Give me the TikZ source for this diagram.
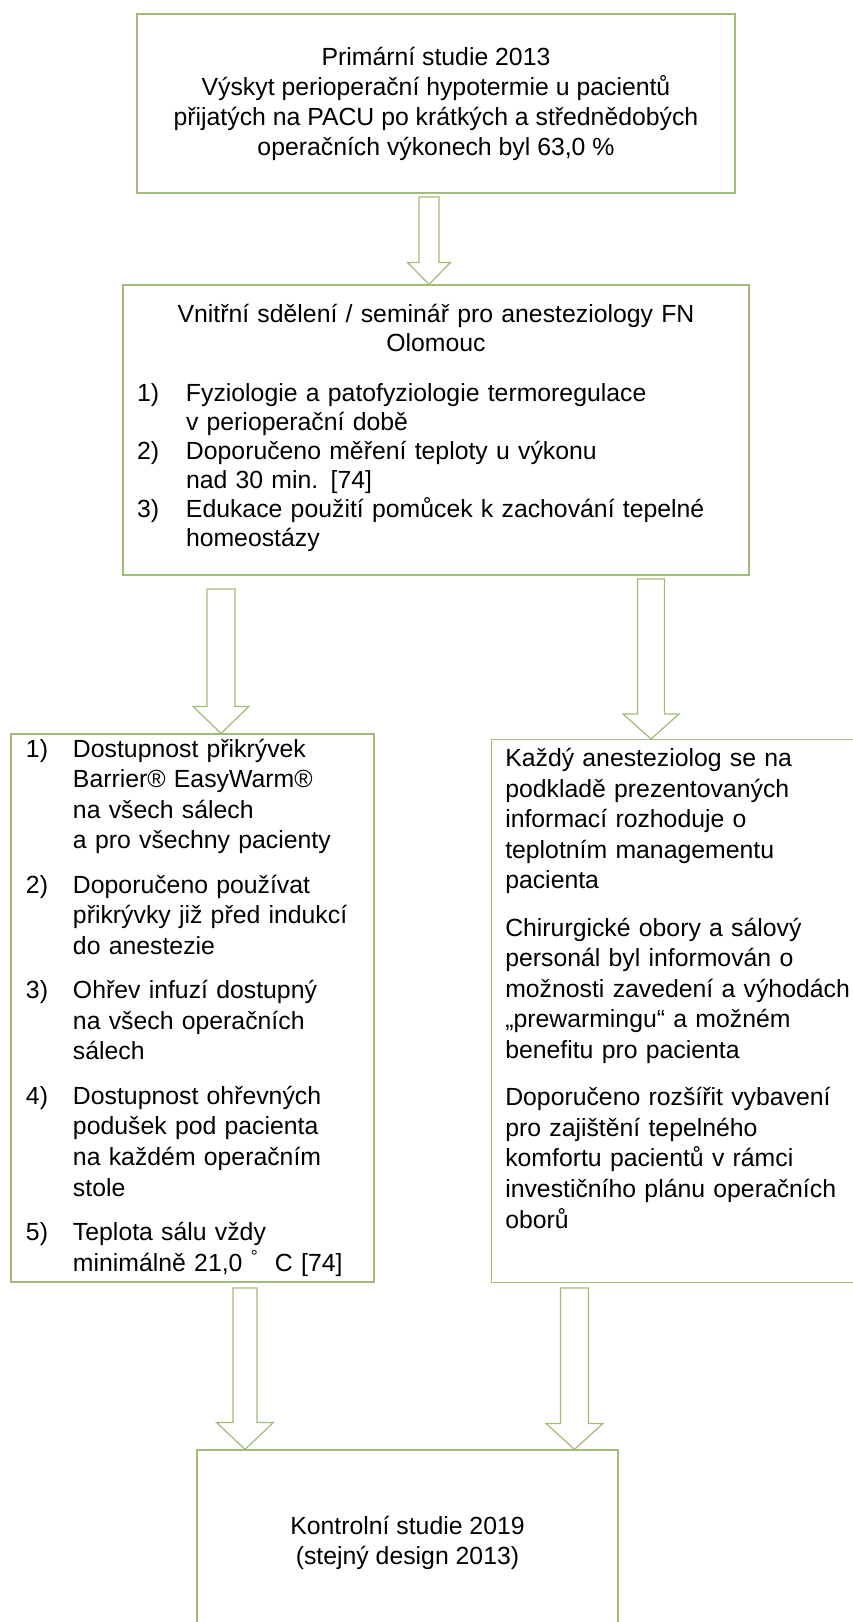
\documentclass[tikz,border=0pt]{standalone}
\usepackage{fontspec}
\setmainfont{Liberation Sans}
\usepackage{tikz}
\usetikzlibrary{calc}
\definecolor{boxgreen}{RGB}{160,188,120}

% hollow block arrow: start, tip, shaft half width, head half width, head length
\newcommand{\blockarrow}[5]{%
  \draw[blk] ($(#1)+(-#3,0)$) -- ($(#2)+(-#3,-#5)$) -- ($(#2)+(-#4,-#5)$)
    -- (#2) -- ($(#2)+(#4,-#5)$) -- ($(#2)+(#3,-#5)$) -- ($(#1)+(#3,0)$) -- cycle;}

\begin{document}
\begin{tikzpicture}[
  x=0.75pt, y=-0.75pt,
  font=\fontsize{18.6}{22.5}\selectfont,
  box/.style={draw=boxgreen, line width=0.9pt, fill=white, inner sep=0pt},
  blk/.style={draw=boxgreen, line width=0.9pt, fill=white, line join=miter},
  txt/.style={inner sep=0pt, align=left},
  ]
  \useasboundingbox (0,0) rectangle (853,1622);
  \clip (0,0) rectangle (853,1622);
  % Primary study
  \node[box, minimum width=448.5pt, minimum height=134.25pt, align=center]
  (prim) at (436,103.5)
  {Primární studie 2013\\
    Výskyt perioperační hypotermie u pacientů\\
    přijatých na PACU po krátkých a střednědobých\\
    operačních výkonech byl 63,0 \%};
  % Seminar
  \node[box, minimum width=469.5pt, minimum height=217.5pt, inner xsep=10.5pt,
  text width=448.5pt, font=\fontsize{18.6}{21.75}\selectfont]
  (semin) at (436,430)
  {{\centering Vnitřní sdělení / seminář pro anesteziology FN\\ Olomouc\par}
    \vspace{21pt}\noindent
    \begin{tabular}{@{}p{36.75pt}@{}l@{}}
      1) & Fyziologie a patofyziologie termoregulace\\
         & v perioperační době\\
      2) & Doporučeno měření teploty u výkonu\\
         & nad 30 min. [74]\\
      3) & Edukace použití pomůcek k zachování tepelné\\
         & homeostázy
    \end{tabular}};
  % Measures
  \node[box, minimum width=272.25pt, minimum height=411pt, inner xsep=11.25pt,
  text width=249.75pt, font=\fontsize{18.6}{22.9}\selectfont]
  (opts) at (192.5,1008)
  {\noindent
    \begin{tabular}{@{}p{35.25pt}@{}l@{}}
      1) & Dostupnost přikrývek\\
         & Barrier® EasyWarm®\\
         & na všech sálech\\
         & a pro všechny pacienty\\[10.5pt]
      2) & Doporučeno používat\\
         & přikrývky již před indukcí\\
         & do anestezie\\[10.5pt]
      3) & Ohřev infuzí dostupný\\
         & na všech operačních\\
         & sálech\\[10.5pt]
      4) & Dostupnost ohřevných\\
         & podušek pod pacienta\\
         & na každém operačním\\
         & stole\\[10.5pt]
      5) & Teplota sálu vždy\\
         & minimálně 21,0 \textsuperscript{°}\ \ C [74]
    \end{tabular}};
  % Decisions
  \node[box, anchor=north west, minimum width=285pt, minimum height=407.25pt]
  (info) at (491,739) {};
  \node[txt, anchor=north west, text width=270pt,
  font=\fontsize{18.6}{22.9}\selectfont] (infotxt) at (505,748)
  {Každý anesteziolog se na\\
    podkladě prezentovaných\\
    informací rozhoduje o\\
    teplotním managementu\\
    pacienta\\[12.75pt]
    Chirurgické obory a sálový\\
    personál byl informován o\\
    možnosti zavedení a výhodách\\
    „prewarmingu“ a možném\\
    benefitu pro pacienta\\[12.75pt]
    Doporučeno rozšířit vybavení\\
    pro zajištění tepelného\\
    komfortu pacientů v rámci\\
    investičního plánu operačních\\
    oborů};
  % Control study
  \node[box, minimum width=315.75pt, minimum height=139.5pt, align=center]
  (ctrl) at (407.5,1543)
  {Kontrolní studie 2019\\ (stejný design 2013)};
  % Arrows
  \coordinate (a1) at (429,197);
  \coordinate (a2) at (221,589);
  \coordinate (a3) at (651,579);
  \coordinate (a4) at (245,1288);
  \coordinate (a5) at (574.5,1288);
  \blockarrow{a1}{a1 |- semin.north}{10}{21.5}{22}
  \blockarrow{a2}{a2 |- opts.north}{14}{28}{27}
  \blockarrow{a3}{a3 |- info.north}{13.5}{28}{25}
  \blockarrow{a4}{a4 |- ctrl.north}{12}{28.5}{27}
  \blockarrow{a5}{a5 |- ctrl.north}{14}{28.5}{26}
\end{tikzpicture}
\end{document}
